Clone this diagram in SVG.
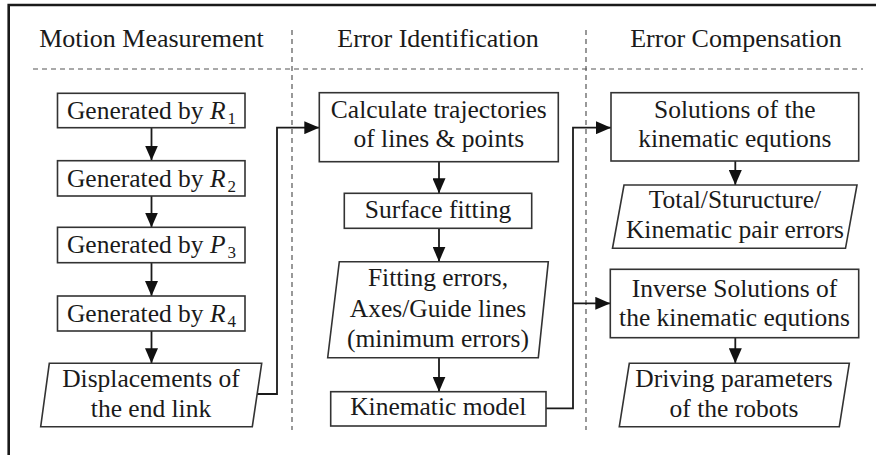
<svg xmlns="http://www.w3.org/2000/svg" width="876" height="455" viewBox="0 0 876 455">
<style>
  .bg { fill: #ffffff; }
  .frame { fill: none; stroke: #1a1a1a; stroke-width: 2.6; }
  .sep { fill: none; stroke: #555555; stroke-width: 1.2; stroke-dasharray: 5 4; }
  .box { fill: #ffffff; stroke: #333333; stroke-width: 1.6; }
  .conn { fill: none; stroke: #1a1a1a; stroke-width: 1.8; }
  .t { font-family: "Liberation Serif", "Times New Roman", serif; font-size: 25.5px; fill: #1a1a1a; text-anchor: middle; }
  .h { font-family: "Liberation Serif", "Times New Roman", serif; font-size: 26px; fill: #1a1a1a; text-anchor: middle; }
  .it { font-style: italic; }
  .sub { font-size: 17px; }
</style>
<defs>
  <marker id="arr" markerUnits="userSpaceOnUse" markerWidth="15" markerHeight="13" refX="15" refY="6.5" orient="auto">
    <path d="M0,0 L15,6.5 L0,13 Z" fill="#111111"/>
  </marker>
</defs>
<rect class="bg" x="0" y="0" width="876" height="455"/>
<path class="frame" d="M8.7,455 V5 H876"/>

<g id="separators">
  <line class="sep" x1="33" y1="69" x2="863" y2="69"/>
  <line class="sep" x1="292" y1="30" x2="292" y2="430" stroke-dasharray="4 4"/>
  <line class="sep" x1="586" y1="30" x2="586" y2="430" stroke-dasharray="4 4"/>
</g>

<g id="headers">
  <text class="h" x="151.5" y="47">Motion Measurement</text>
  <text class="h" x="438" y="47">Error Identification</text>
  <text class="h" x="736" y="47">Error Compensation</text>
</g>

<g id="connectors">
  <line class="conn" x1="151.5" y1="128" x2="151.5" y2="160.5" marker-end="url(#arr)"/>
  <line class="conn" x1="151.5" y1="196" x2="151.5" y2="227.5" marker-end="url(#arr)"/>
  <line class="conn" x1="151.5" y1="263" x2="151.5" y2="296" marker-end="url(#arr)"/>
  <line class="conn" x1="151.5" y1="331" x2="151.5" y2="363.3" marker-end="url(#arr)"/>
  <path class="conn" d="M257,394 H277 V127.7 H319.3" marker-end="url(#arr)"/>
  <line class="conn" x1="439" y1="161.7" x2="439" y2="193.3" marker-end="url(#arr)"/>
  <line class="conn" x1="439" y1="228.3" x2="439" y2="261.7" marker-end="url(#arr)"/>
  <line class="conn" x1="439" y1="357.7" x2="439" y2="391.7" marker-end="url(#arr)"/>
  <path class="conn" d="M546,408.3 H573 V127.7 H611" marker-end="url(#arr)"/>
  <path class="conn" d="M573,303.3 H610.3" marker-end="url(#arr)"/>
  <line class="conn" x1="735.3" y1="161" x2="735.3" y2="185" marker-end="url(#arr)"/>
  <line class="conn" x1="735.3" y1="337.7" x2="735.3" y2="363.3" marker-end="url(#arr)"/>
</g>

<g id="gen-r1">
  <rect class="box" x="57.5" y="93.3" width="187.5" height="34.4"/>
  <text class="t" x="151.5" y="119.3">Generated by <tspan class="it">R</tspan><tspan class="sub" dx="2" dy="5">1</tspan></text>
</g>
<g id="gen-r2">
  <rect class="box" x="57.5" y="160.7" width="187.5" height="35.3"/>
  <text class="t" x="151.5" y="186.7">Generated by <tspan class="it">R</tspan><tspan class="sub" dx="2" dy="5">2</tspan></text>
</g>
<g id="gen-p3">
  <rect class="box" x="57.5" y="227.3" width="187.5" height="35.4"/>
  <text class="t" x="151.5" y="253.3">Generated by <tspan class="it">P</tspan><tspan class="sub" dx="2" dy="5">3</tspan></text>
</g>
<g id="gen-r4">
  <rect class="box" x="57.5" y="296" width="187.5" height="35"/>
  <text class="t" x="151.5" y="322">Generated by <tspan class="it">R</tspan><tspan class="sub" dx="2" dy="5">4</tspan></text>
</g>
<g id="displacements">
  <polygon class="box" points="49.3,363.3 261.7,363.3 252.3,426.7 40.7,426.7"/>
  <text class="t" x="151" y="386.7">Displacements of</text>
  <text class="t" x="151" y="416.7">the end link</text>
</g>

<g id="calculate">
  <rect class="box" x="319.3" y="92.7" width="239" height="69"/>
  <text class="t" x="438.8" y="118.3">Calculate trajectories</text>
  <text class="t" x="438.8" y="146.7">of lines &amp; points</text>
</g>
<g id="surface">
  <rect class="box" x="344.3" y="193.3" width="187.4" height="35"/>
  <text class="t" x="438" y="218.3">Surface fitting</text>
</g>
<g id="fitting">
  <polygon class="box" points="339.3,261.7 548.3,261.7 538.3,357.7 327.7,357.7"/>
  <text class="t" x="438" y="286">Fitting errors,</text>
  <text class="t" x="438" y="316.5">Axes/Guide lines</text>
  <text class="t" x="438" y="346.5">(minimum errors)</text>
</g>
<g id="kinematic">
  <rect class="box" x="330.7" y="391.7" width="215.3" height="34.3"/>
  <text class="t" x="438.3" y="415">Kinematic model</text>
</g>

<g id="solutions">
  <rect class="box" x="611" y="92.7" width="247.7" height="68.3"/>
  <text class="t" x="734.8" y="118.3">Solutions of the</text>
  <text class="t" x="734.8" y="146.7">kinematic equtions</text>
</g>
<g id="total">
  <polygon class="box" points="624,185 857,185 845.5,248.3 612.5,248.3"/>
  <text class="t" x="735" y="208.3">Total/Sturucture/</text>
  <text class="t" x="735" y="238.3">Kinematic pair errors</text>
</g>
<g id="inverse">
  <rect class="box" x="610.3" y="269.3" width="248.4" height="68.4"/>
  <text class="t" x="734.5" y="296.7">Inverse Solutions of</text>
  <text class="t" x="734.5" y="326">the kinematic equtions</text>
</g>
<g id="driving">
  <polygon class="box" points="629.3,363.3 849.3,363.3 839.3,426.7 619.3,426.7"/>
  <text class="t" x="734" y="386.7">Driving parameters</text>
  <text class="t" x="734" y="416.7">of the robots</text>
</g>
</svg>
